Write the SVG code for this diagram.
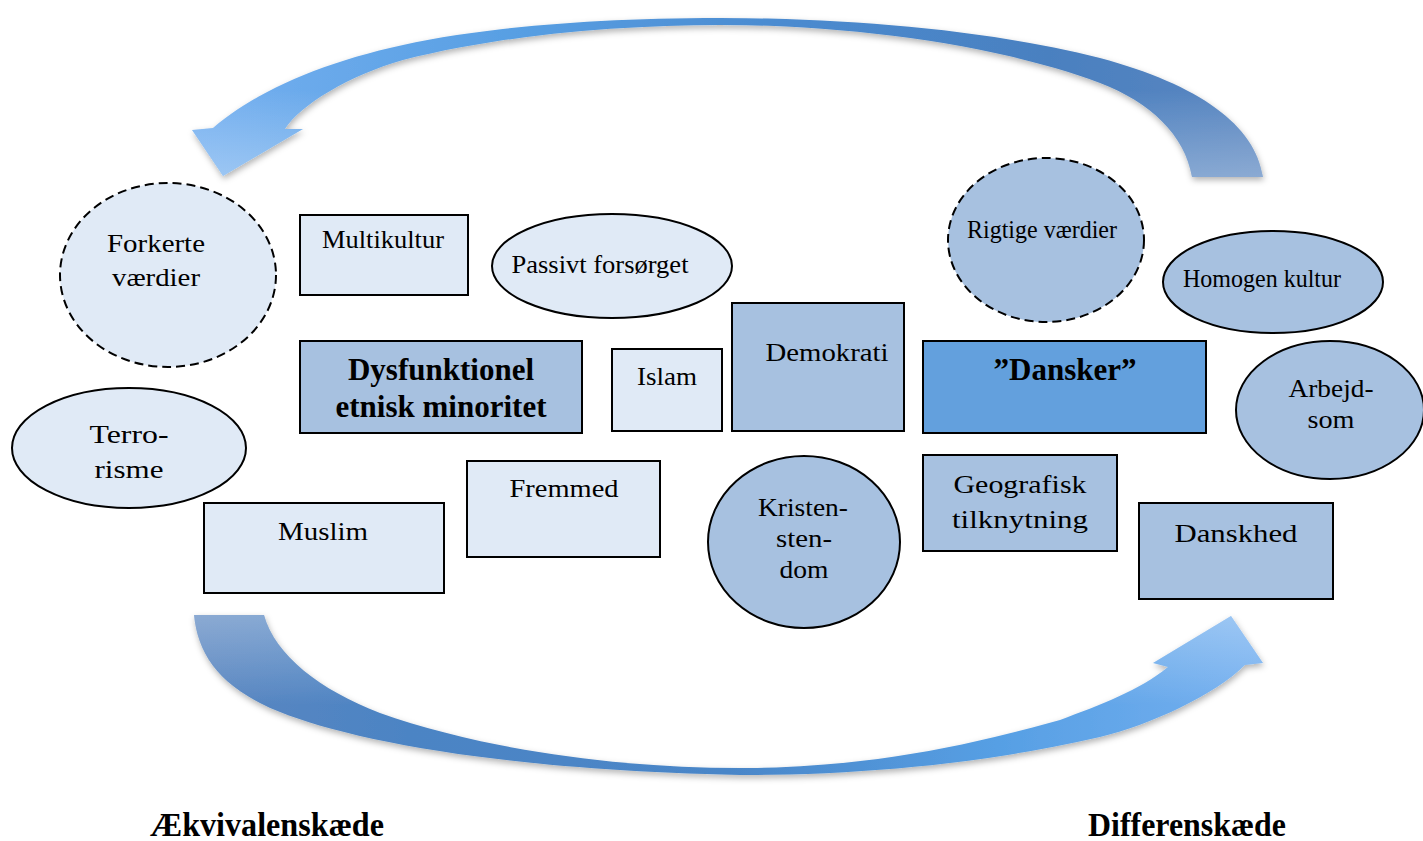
<svg xmlns="http://www.w3.org/2000/svg" width="1423" height="841" viewBox="0 0 1423 841">
<defs>
<style>
.light{fill:#e0eaf6;stroke:#000;stroke-width:2}
.mid{fill:#a7c1e0;stroke:#000;stroke-width:2}
.strong{fill:#63a0dd;stroke:#000;stroke-width:2}
.dash{stroke-dasharray:9 5}
.t{font-family:"Liberation Serif","Times New Roman",serif;font-size:26px;fill:#000;text-anchor:middle}
.c{font-family:"Liberation Serif","Times New Roman",serif;font-size:26px;fill:#000;text-anchor:middle}
.b{font-family:"Liberation Serif","Times New Roman",serif;font-weight:bold;font-size:31px;fill:#000;text-anchor:middle}
.lab{font-family:"Liberation Serif","Times New Roman",serif;font-weight:bold;font-size:34px;fill:#000}
</style>
<linearGradient id="gTop" gradientUnits="userSpaceOnUse" x1="192" y1="0" x2="1263" y2="0">
<stop offset="0" stop-color="#75b0f0"/>
<stop offset="0.3" stop-color="#589fe3"/>
<stop offset="0.55" stop-color="#4b8bd0"/>
<stop offset="0.8" stop-color="#4a80c0"/>
<stop offset="1" stop-color="#5a86c0"/>
</linearGradient>
<linearGradient id="gTopV" gradientUnits="userSpaceOnUse" x1="0" y1="90" x2="0" y2="177">
<stop offset="0" stop-color="#fff" stop-opacity="0"/>
<stop offset="1" stop-color="#fff" stop-opacity="0.3"/>
</linearGradient>
<linearGradient id="gBot" gradientUnits="userSpaceOnUse" x1="194" y1="0" x2="1263" y2="0">
<stop offset="0" stop-color="#5a86c0"/>
<stop offset="0.2" stop-color="#4c84c4"/>
<stop offset="0.5" stop-color="#4a86c8"/>
<stop offset="0.75" stop-color="#569fe4"/>
<stop offset="1" stop-color="#75b0f0"/>
</linearGradient>
<linearGradient id="gBotV" gradientUnits="userSpaceOnUse" x1="0" y1="615" x2="0" y2="705">
<stop offset="0" stop-color="#fff" stop-opacity="0.3"/>
<stop offset="1" stop-color="#fff" stop-opacity="0"/>
</linearGradient>
<filter id="sh" x="-10%" y="-10%" width="120%" height="130%">
<feDropShadow dx="1" dy="3" stdDeviation="3" flood-color="#000" flood-opacity="0.3"/>
</filter>
<path id="pTop" d="M1263,177 C1255,125 1200,85 1100,58 C990,30 850,18 720,18 C590,18 480,28 403,45 C320,63 255,92 213,128 L192,130 L223,176 L303,129 L285,129 C300,105 350,75 403,60 C500,35 620,25 720,25 C850,25 1000,45 1100,83 C1150,102 1185,135 1192,177 Z"/>
<path id="pBot" d="M194,615 C198,655 220,688 280,712 C350,740 500,770 740,775 C880,775 1000,760 1100,737 C1150,725 1215,695 1245,665 L1263,663 L1231,616 L1153,663 L1168,667 C1140,690 1100,705 1060,720 C960,748 860,768 740,768 C600,768 470,745 380,713 C320,690 275,655 264,615 Z"/>
</defs>
<rect width="1423" height="841" fill="#fff"/>

<g id="connectors">
<g id="arrow-top" filter="url(#sh)">
<use href="#pTop" fill="url(#gTop)"/>
<use href="#pTop" fill="url(#gTopV)"/>
</g>
<g id="arrow-bottom" filter="url(#sh)">
<use href="#pBot" fill="url(#gBot)"/>
<use href="#pBot" fill="url(#gBotV)"/>
</g>
</g>

<g id="forkerte-vaerdier">
<ellipse class="light dash" cx="168" cy="275" rx="108" ry="92"/>
<text class="t" x="156" y="252" font-size="27" textLength="98" lengthAdjust="spacingAndGlyphs">Forkerte</text>
<text class="t" x="156" y="286" font-size="27" textLength="88" lengthAdjust="spacingAndGlyphs">værdier</text>
</g>
<g id="multikultur">
<rect class="light" x="300" y="215" width="168" height="80"/>
<text class="t" x="383" y="248" font-size="25" textLength="122" lengthAdjust="spacingAndGlyphs">Multikultur</text>
</g>
<g id="passivt-forsoerget">
<ellipse class="light" cx="612" cy="266" rx="120" ry="52"/>
<text class="t" x="600" y="273" textLength="177" lengthAdjust="spacingAndGlyphs">Passivt forsørget</text>
</g>
<g id="dysfunktionel">
<rect class="mid" x="300" y="341" width="282" height="92"/>
<text class="b" x="441" y="380">Dysfunktionel</text>
<text class="b" x="441" y="417">etnisk minoritet</text>
</g>
<g id="islam">
<rect class="light" x="612" y="349" width="110" height="82"/>
<text class="c" x="667" y="385" textLength="60" lengthAdjust="spacingAndGlyphs">Islam</text>
</g>
<g id="demokrati">
<rect class="mid" x="732" y="303" width="172" height="128"/>
<text class="c" x="827" y="361" textLength="123" lengthAdjust="spacingAndGlyphs">Demokrati</text>
</g>
<g id="terrorisme">
<ellipse class="light" cx="129" cy="448" rx="117" ry="60"/>
<text class="c" x="129" y="443" textLength="79" lengthAdjust="spacingAndGlyphs">Terro-</text>
<text class="c" x="129" y="478" textLength="69" lengthAdjust="spacingAndGlyphs">risme</text>
</g>
<g id="muslim">
<rect class="light" x="204" y="503" width="240" height="90"/>
<text class="c" x="323" y="540" textLength="90" lengthAdjust="spacingAndGlyphs">Muslim</text>
</g>
<g id="fremmed">
<rect class="light" x="467" y="461" width="193" height="96"/>
<text class="c" x="564" y="497" textLength="109" lengthAdjust="spacingAndGlyphs">Fremmed</text>
</g>
<g id="kristendom">
<ellipse class="mid" cx="804" cy="542" rx="96" ry="86"/>
<text class="c" x="803" y="516" textLength="90" lengthAdjust="spacingAndGlyphs">Kristen-</text>
<text class="c" x="804" y="547" textLength="56" lengthAdjust="spacingAndGlyphs">sten-</text>
<text class="c" x="804" y="578" textLength="49" lengthAdjust="spacingAndGlyphs">dom</text>
</g>
<g id="rigtige-vaerdier">
<ellipse class="mid dash" cx="1046" cy="240" rx="98" ry="82"/>
<text class="t" x="1042" y="238" font-size="23" textLength="150" lengthAdjust="spacingAndGlyphs">Rigtige værdier</text>
</g>
<g id="homogen-kultur">
<ellipse class="mid" cx="1273" cy="282" rx="110" ry="51"/>
<text class="t" x="1262" y="287" font-size="24" textLength="158" lengthAdjust="spacingAndGlyphs">Homogen kultur</text>
</g>
<g id="dansker">
<rect class="strong" x="923" y="341" width="283" height="92"/>
<text class="b" x="1065" y="380">”Dansker”</text>
</g>
<g id="arbejdsom">
<ellipse class="mid" cx="1330" cy="410" rx="94" ry="69"/>
<text class="c" x="1331" y="397" textLength="85" lengthAdjust="spacingAndGlyphs">Arbejd-</text>
<text class="c" x="1331" y="428" textLength="47" lengthAdjust="spacingAndGlyphs">som</text>
</g>
<g id="geografisk">
<rect class="mid" x="923" y="455" width="194" height="96"/>
<text class="c" x="1020" y="493" textLength="133" lengthAdjust="spacingAndGlyphs">Geografisk</text>
<text class="c" x="1020" y="528" textLength="136" lengthAdjust="spacingAndGlyphs">tilknytning</text>
</g>
<g id="danskhed">
<rect class="mid" x="1139" y="503" width="194" height="96"/>
<text class="c" x="1236" y="542" textLength="123" lengthAdjust="spacingAndGlyphs">Danskhed</text>
</g>

<g id="labels">
<text class="lab" x="150" y="836" textLength="234" lengthAdjust="spacingAndGlyphs">Ækvivalenskæde</text>
<text class="lab" x="1088" y="836" textLength="198" lengthAdjust="spacingAndGlyphs">Differenskæde</text>
</g>
</svg>
